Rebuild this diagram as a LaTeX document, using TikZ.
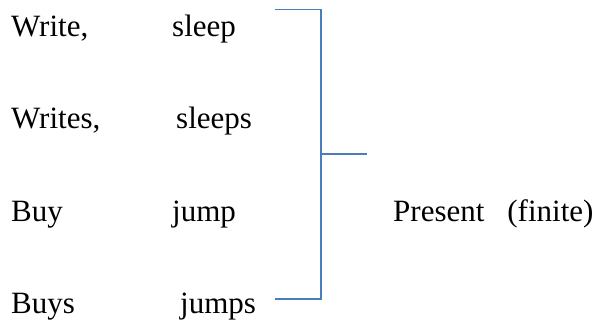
\documentclass[tikz,border=0pt]{standalone}
\usepackage{fontspec}
\setmainfont{Liberation Serif}
\definecolor{bracketblue}{HTML}{4A7EBB}
\tikzset{
  word/.style={anchor=base west, inner sep=0pt, font=\fontsize{31}{37}\selectfont},
  bracketline/.style={draw=bracketblue, line width=1.6pt}
}
\begin{document}
\begin{tikzpicture}[x=1pt,y=-1pt]
  \useasboundingbox (0,0) rectangle (594,324);
  % verb forms, two columns
  \node[word] (w1) at (11,36) {Write,};
  \node[word] (s1) at (172,36) {sleep};
  \node[word] (w2) at (11,128) {Writes,};
  \node[word] (s2) at (176,128) {sleeps};
  \node[word] (w3) at (11,221) {Buy};
  \node[word] (s3) at (172,221) {jump};
  \node[word] (w4) at (11,313) {Buys};
  \node[word] (s4) at (180,313) {jumps};
  % label
  \node[word] (lab) at (393,221) {Present\hspace{0.74em}(finite)};
  % bracket grouping the forms
  \coordinate (topL) at (275,9.5);
  \coordinate (topR) at (321,9.5);
  \coordinate (midL) at (321,154);
  \coordinate (midR) at (367,154);
  \coordinate (botL) at (275,299);
  \coordinate (botR) at (321,299);
  \draw[bracketline] (topL) -- (topR) -- (botR) -- (botL);
  \draw[bracketline] (midL) -- (midR);
\end{tikzpicture}
\end{document}
